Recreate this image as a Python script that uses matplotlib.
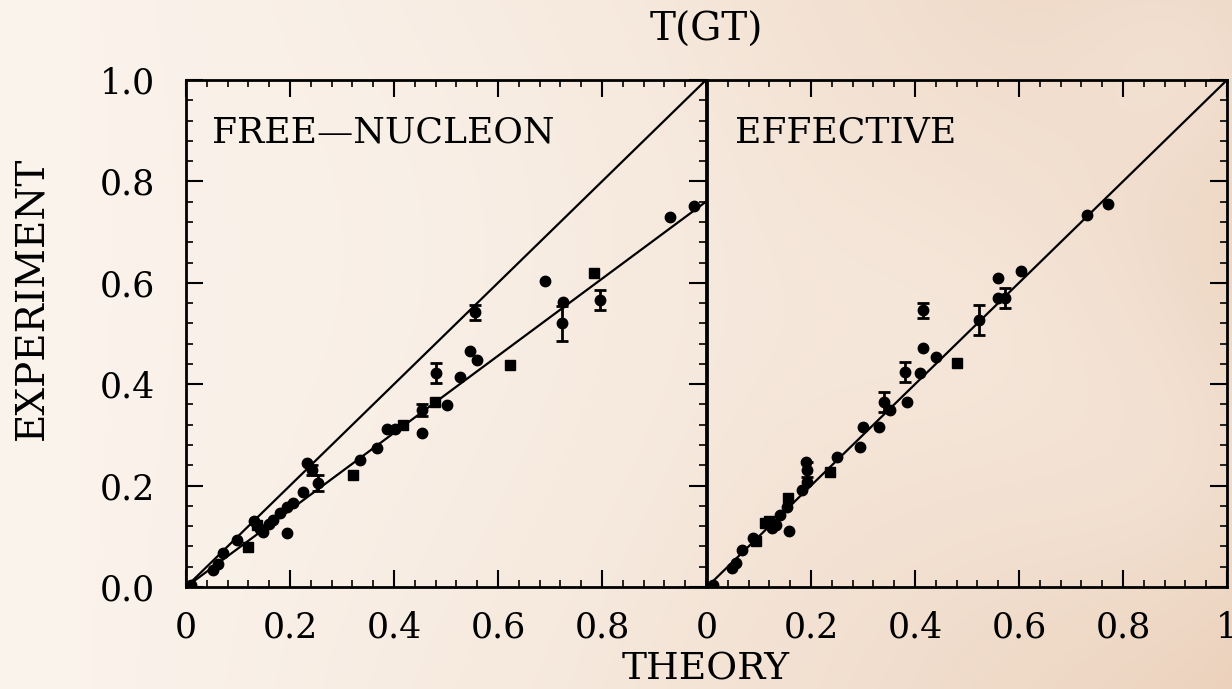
import numpy as np
import matplotlib
matplotlib.use("Agg")
import matplotlib.pyplot as plt
from matplotlib.ticker import MultipleLocator, FixedLocator, FixedFormatter

# T(GT): experiment vs theory, free-nucleon and effective operators
free_theory = [0.010, 0.052, 0.062, 0.071, 0.098, 0.119, 0.130, 0.136, 0.142, 0.148,
               0.160, 0.167, 0.181, 0.194, 0.206, 0.194, 0.225, 0.233, 0.242, 0.254,
               0.321, 0.335, 0.367, 0.387, 0.402, 0.417, 0.454, 0.454, 0.479, 0.502,
               0.481, 0.527, 0.546, 0.560, 0.556, 0.623, 0.690, 0.725, 0.723, 0.785,
               0.796, 0.931, 0.977]
free_exp = [0.004, 0.034, 0.045, 0.067, 0.093, 0.079, 0.130, 0.122, 0.115, 0.108,
            0.125, 0.132, 0.146, 0.158, 0.165, 0.106, 0.187, 0.244, 0.231, 0.205,
            0.221, 0.250, 0.274, 0.311, 0.311, 0.320, 0.304, 0.349, 0.365, 0.359,
            0.422, 0.414, 0.465, 0.448, 0.542, 0.438, 0.604, 0.562, 0.520, 0.619,
            0.566, 0.730, 0.751]
free_err = [0, 0, 0, 0, 0, 0, 0, 0, 0, 0,
            0, 0, 0, 0, 0, 0, 0, 0, 0.010, 0.015,
            0, 0, 0, 0, 0, 0, 0, 0.012, 0, 0,
            0.020, 0, 0, 0, 0.015, 0, 0, 0, 0.035, 0,
            0.020, 0, 0]
free_square = [5, 7, 20, 25, 28, 35, 39]

eff_theory = [0.011, 0.048, 0.055, 0.067, 0.088, 0.095, 0.112, 0.120, 0.125, 0.132,
              0.140, 0.154, 0.156, 0.158, 0.183, 0.190, 0.192, 0.192, 0.237, 0.250,
              0.294, 0.300, 0.330, 0.352, 0.340, 0.385, 0.381, 0.410, 0.415, 0.440,
              0.481, 0.415, 0.523, 0.560, 0.573, 0.560, 0.604, 0.731, 0.771]
eff_exp = [0.004, 0.037, 0.047, 0.073, 0.097, 0.090, 0.126, 0.130, 0.116, 0.122,
           0.142, 0.158, 0.175, 0.110, 0.191, 0.246, 0.231, 0.207, 0.227, 0.256,
           0.276, 0.316, 0.316, 0.349, 0.365, 0.365, 0.424, 0.422, 0.471, 0.454,
           0.442, 0.546, 0.527, 0.570, 0.570, 0.609, 0.624, 0.734, 0.755]
eff_err = [0, 0, 0, 0, 0, 0, 0, 0, 0, 0,
           0, 0, 0, 0, 0, 0, 0.015, 0, 0, 0,
           0, 0, 0, 0, 0.020, 0, 0.020, 0, 0, 0,
           0, 0.015, 0.030, 0, 0.020, 0, 0, 0, 0]
eff_square = [5, 6, 7, 12, 18, 30]

quench = 0.76

plt.rcParams['font.family'] = ['DejaVu Serif']

fig = plt.figure(figsize=(12.32, 6.89), dpi=100)

# soft beige background
bg = fig.add_axes([0, 0, 1, 1], zorder=0)
h, w = 689, 1232
yy, xx = np.mgrid[0:h, 0:w]
t = xx / w
light = np.array([251, 244, 237]) / 255
dark = np.array([235, 208, 186]) / 255
img = light[None, None, :] * (1 - t[..., None] ** 1.2) + dark[None, None, :] * (t[..., None] ** 1.2)
for cx, cy, r, a in [(980, 330, 160, 0.4), (1180, 460, 120, 0.3), (1190, 60, 100, 0.35), (420, 250, 300, 0.5)]:
    g = np.exp(-((xx - cx) ** 2 + (yy - cy) ** 2) / (2 * r ** 2))
    img = img * (1 - a * g[..., None]) + light[None, None, :] * (a * g[..., None])
bg.imshow(img, aspect='auto', extent=[0, 1, 0, 1])
bg.axis('off')

ax1 = fig.add_axes([186 / 1232, 1 - 587 / 689, 520 / 1232, 507 / 689], zorder=1)
ax2 = fig.add_axes([707 / 1232, 1 - 587 / 689, 520 / 1232, 507 / 689], zorder=1, sharey=ax1)


def draw_points(ax, xs, ys, errs, squares):
    xs = np.array(xs)
    ys = np.array(ys)
    errs = np.array(errs)
    sq = np.zeros(len(xs), bool)
    sq[squares] = True
    ax.plot(xs[~sq], ys[~sq], 'o', color='black', ms=7.5, zorder=3)
    ax.plot(xs[sq], ys[sq], 's', color='black', ms=7.5, zorder=3)
    e = errs > 0
    ax.errorbar(xs[e], ys[e], yerr=errs[e], fmt='none', ecolor='black',
                elinewidth=2, capsize=4, capthick=2, zorder=3)


line = np.array([0, 1])
ax1.plot(line, line, color='black', lw=1.6)
ax1.plot(line, quench * line, color='black', lw=1.6)
draw_points(ax1, free_theory, free_exp, free_err, free_square)

ax2.plot(line, line, color='black', lw=1.6)
draw_points(ax2, eff_theory, eff_exp, eff_err, eff_square)

for ax in (ax1, ax2):
    ax.set_facecolor('none')
    ax.set_xlim(0, 1)
    ax.set_ylim(0, 1)
    ax.xaxis.set_minor_locator(MultipleLocator(0.04))
    ax.yaxis.set_minor_locator(MultipleLocator(0.04))
    for s in ax.spines.values():
        s.set_linewidth(2)
    ax.tick_params(which='major', direction='in', length=12, width=1.5, labelsize=25)
    ax.tick_params(which='minor', direction='in', length=5, width=1.2)
    ax.tick_params(axis='x', which='major', pad=17)
    ax.tick_params(axis='y', which='major', pad=22)

ax1.tick_params(which='both', top=True, right=True, left=True, bottom=True)
ax2.tick_params(which='both', top=True, right=True, left=False, bottom=True, labelleft=False)

ax1.xaxis.set_major_locator(FixedLocator([0, 0.2, 0.4, 0.6, 0.8]))
ax1.xaxis.set_major_formatter(FixedFormatter(['0', '0.2', '0.4', '0.6', '0.8']))
ax2.xaxis.set_major_locator(FixedLocator([0, 0.2, 0.4, 0.6, 0.8, 1.0]))
ax2.xaxis.set_major_formatter(FixedFormatter(['0', '0.2', '0.4', '0.6', '0.8', '1']))
ax1.yaxis.set_major_locator(FixedLocator([0, 0.2, 0.4, 0.6, 0.8, 1.0]))
ax1.yaxis.set_major_formatter(FixedFormatter(['0.0', '0.2', '0.4', '0.6', '0.8', '1.0']))

ax1.text(0.05, 0.897, 'FREE\u2014NUCLEON', fontsize=26, va='center', ha='left')
ax2.text(0.054, 0.897, 'EFFECTIVE', fontsize=26, va='center', ha='left')

fig.text(706 / 1232, 1 - 30 / 689, 'T(GT)', fontsize=28, ha='center', va='center')
fig.text(706 / 1232, 1 - 670 / 689, 'THEORY', fontsize=27, ha='center', va='center')
fig.text(32 / 1232, 1 - 298 / 689, 'EXPERIMENT', fontsize=28, ha='center', va='center', rotation=90)

fig.savefig('out.png', dpi=100)
